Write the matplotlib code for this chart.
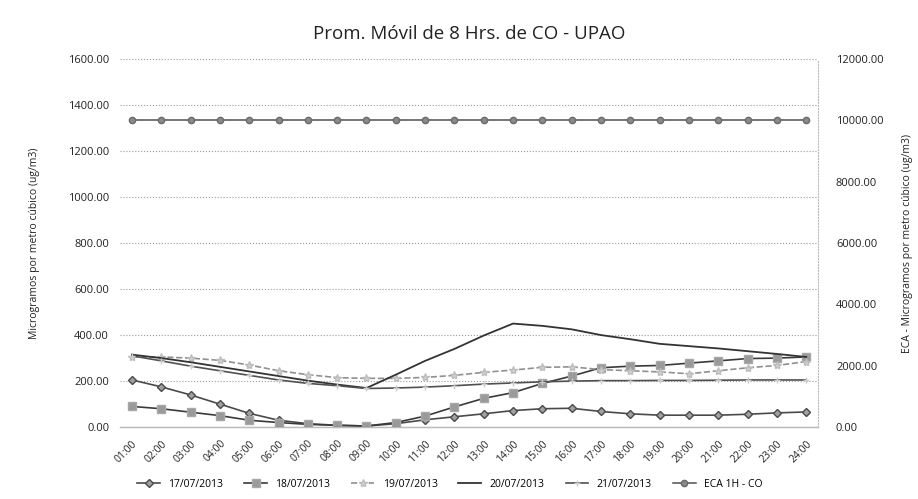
import numpy as np
import matplotlib
matplotlib.use('Agg')
import matplotlib.pyplot as plt

plt.rcParams['font.family'] = ['Open Sans', 'DejaVu Sans']

horas = ["01:00", "02:00", "03:00", "04:00", "05:00", "06:00", "07:00", "08:00",
         "09:00", "10:00", "11:00", "12:00", "13:00", "14:00", "15:00", "16:00",
         "17:00", "18:00", "19:00", "20:00", "21:00", "22:00", "23:00", "24:00"]

d17 = [205, 175, 140, 100, 60, 30, 15, 8, 5, 15, 32, 45, 58, 72, 80, 82,
       68, 58, 52, 52, 52, 56, 62, 66]
d18 = [90, 80, 65, 50, 30, 20, 12, 8, 5, 20, 48, 88, 125, 150, 190, 222,
       258, 265, 268, 278, 288, 298, 300, 305]
d19 = [305, 305, 300, 290, 270, 245, 228, 215, 212, 212, 216, 225, 238, 248, 260, 262,
       250, 245, 240, 232, 245, 258, 268, 285]
d20 = [315, 300, 282, 262, 242, 222, 202, 185, 170, 228, 288, 340, 398, 450, 440, 425,
       400, 382, 362, 352, 342, 330, 318, 305]
d21 = [310, 288, 265, 245, 225, 205, 190, 180, 168, 170, 174, 180, 187, 192, 197, 200,
       202, 202, 203, 203, 204, 205, 205, 205]
eca = [10000] * 24

fig, ax = plt.subplots(figsize=(9.18, 4.99), dpi=100)
fig.subplots_adjust(left=0.131, right=0.891, bottom=0.144, top=0.882)
ax2 = ax.twinx()

x = np.arange(len(horas))
l1, = ax.plot(x, d17, '-', color='#4a4a4a', lw=1.2, marker='D', ms=4,
              mfc='#a0a0a0', mec='#4a4a4a', label='17/07/2013')
l2, = ax.plot(x, d18, '-', color='#3a3a3a', lw=1.2, marker='s', ms=5.5,
              mfc='#9a9a9a', mec='#a8a8a8', label='18/07/2013')
l3, = ax.plot(x, d19, '--', color='#909090', lw=1.2, marker='*', ms=6,
              mfc='#d0d0d0', mec='#bdbdbd', label='19/07/2013')
l4, = ax.plot(x, d20, '-', color='#333333', lw=1.3, label='20/07/2013')
l5, = ax.plot(x, d21, '-', color='#505050', lw=1.2, marker='+', ms=5,
              mec='#cccccc', label='21/07/2013')
l6, = ax2.plot(x, eca, '-', color='#505050', lw=1.1, marker='o', ms=4.5,
               mfc='#8a8a8a', mec='#6a6a6a', label='ECA 1H - CO')

ax.set_ylim(0, 1600)
ax.set_yticks(np.arange(0, 1601, 200))
ax.set_yticklabels([f"{v:.2f}" for v in np.arange(0, 1601, 200)], fontsize=8, color='#222222')
ax2.set_ylim(0, 12000)
ax2.set_yticks(np.arange(0, 12001, 2000))
ax2.set_yticklabels([f"{v:.2f}" for v in np.arange(0, 12001, 2000)], fontsize=8, color='#222222')
ax.set_xlim(-0.4, 23.4)
ax.set_xticks(x)
ax.set_xticklabels(horas, rotation=45, ha='right', rotation_mode='anchor',
                   fontsize=7.5, color='#222222')

ax.grid(axis='y', linestyle=':', color='#9a9a9a', lw=0.8)
ax.tick_params(axis='both', length=0, pad=8)
ax2.tick_params(axis='y', length=0, pad=13)
for a in (ax, ax2):
    for s in ['top', 'left']:
        a.spines[s].set_visible(False)
ax.spines['right'].set_visible(False)
ax2.spines['bottom'].set_color('#bbbbbb')
ax2.spines['right'].set_color('#bbbbbb')
ax2.spines['right'].set_linestyle(':')

ax.set_ylabel("Microgramos por metro cúbico (ug/m3)", fontsize=7.5, labelpad=20,
              color='#222222')
ax2.set_ylabel("ECA - Microgramos por metro cúbico (ug/m3)", fontsize=7.5, labelpad=13,
               color='#222222')
ax.set_title("Prom. Móvil de 8 Hrs. de CO - UPAO", fontsize=13.5, pad=14, color='#222222')

fig.legend(handles=[l1, l2, l3, l4, l5, l6], loc='lower center', ncol=6,
           bbox_to_anchor=(0.49, 0.0), frameon=False, fontsize=7.5,
           handlelength=2.2, columnspacing=2.0)

plt.savefig("out.png", dpi=100)
plt.close()
